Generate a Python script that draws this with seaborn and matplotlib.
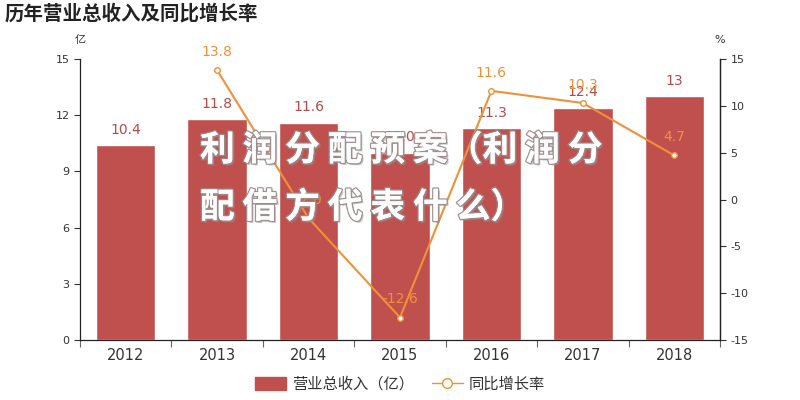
import numpy as np
import pandas as pd
import matplotlib
matplotlib.use("Agg")
import matplotlib.pyplot as plt
import matplotlib.patheffects as pe
from matplotlib.lines import Line2D
from matplotlib.patches import Patch
import seaborn as sns

years = ["2012", "2013", "2014", "2015", "2016", "2017", "2018"]
revenue = [10.4, 11.8, 11.6, 10.0, 11.3, 12.4, 13.0]
revenue_labels = ["10.4", "11.8", "11.6", "10.0", "11.3", "12.4", "13"]
growth_years = ["2013", "2014", "2015", "2016", "2017", "2018"]
growth = [13.8, -2.0, -12.6, 11.6, 10.3, 4.7]
growth_labels = ["13.8", "-2.0", "-12.6", "11.6", "10.3", "4.7"]
left_ticks = [0, 3, 6, 9, 12, 15]
right_ticks = [-15, -10, -5, 0, 5, 10, 15]

sns.set_theme(style="white")
plt.rcParams['font.family'] = ['DejaVu Sans', 'Noto Sans CJK SC']
plt.rcParams['axes.unicode_minus'] = False

BAR = "#c0504d"
LINE = "#f0913a"
TXT = "#333333"

fig = plt.figure(figsize=(8, 4), dpi=100)
ax = fig.add_axes([0.1, 0.15, 0.8, 0.7025])

df = pd.DataFrame({"year": years, "rev": revenue})
sns.barplot(data=df, x="year", y="rev", color=BAR, saturation=1, width=0.65, ax=ax)
for i, (v, lab) in enumerate(zip(revenue, revenue_labels)):
    ax.text(i, v + 0.45, lab, ha="center", va="bottom", color="#b84a47", fontsize=10)

ax.set_ylim(0, 15)
ax.set_xlim(-0.5, len(years) - 0.5)
ax.set_yticks(left_ticks)
ax.set_xlabel("")
ax.set_ylabel("")
ax.tick_params(axis="y", labelsize=8, colors=TXT, length=4, width=0.8, left=True, direction="out")
ax.tick_params(axis="x", labelsize=10.5, colors=TXT, length=0, pad=6)
ax.set_xticks(np.arange(-0.5, len(years), 1.0), minor=True)
ax.tick_params(axis="x", which="minor", bottom=True, length=5, width=0.8, color="#666666", direction="out")
ax.spines["top"].set_visible(False)
for s in ["left", "right", "bottom"]:
    ax.spines[s].set_color("#222222")
    ax.spines[s].set_linewidth(0.9)

ax2 = ax.twinx()
gx = [years.index(y) for y in growth_years]
gdf = pd.DataFrame({"x": gx, "g": growth})
sns.lineplot(data=gdf, x="x", y="g", color=LINE, linewidth=1.5, marker="o", markersize=4,
             markerfacecolor="white", markeredgecolor=LINE, markeredgewidth=1.0, ax=ax2)
for x, v, lab in zip(gx, growth, growth_labels):
    ax2.text(x, v + 1.2, lab, ha="center", va="bottom", color=LINE, fontsize=10)
ax2.set_ylim(-15, 15)
ax2.set_yticks(right_ticks)
ax2.set_xlim(-0.5, len(years) - 0.5)
ax2.set_ylabel("")
ax2.set_xlabel("")
ax2.tick_params(axis="y", labelsize=8, colors=TXT, length=4, width=0.8, right=True, direction="out")
for s in ["top", "left", "bottom"]:
    ax2.spines[s].set_visible(False)
ax2.spines["right"].set_color("#222222")
ax2.spines["right"].set_linewidth(0.9)

fig.text(0.006, 0.965, "历年营业总收入及同比增长率", fontsize=14, fontweight="bold",
         color="#222222", ha="left", va="center", family=['Noto Sans CJK SC', 'DejaVu Sans'])
fig.text(0.1, 0.9, "亿", fontsize=8, color=TXT, ha="center", va="center")
fig.text(0.9, 0.9, "%", fontsize=8, color=TXT, ha="center", va="center")

# watermark
shadow = [pe.SimplePatchShadow(offset=(1.5, -1.5), shadow_rgbFace="#9a8f8f", alpha=0.5),
          pe.withStroke(linewidth=2, foreground="#9a8a8a"), pe.Normal()]
fig.text(0.25, 0.625, "利 润 分 配 预 案（利 润 分", fontsize=25, color="white",
         fontweight="bold", ha="left", va="center", path_effects=shadow, alpha=0.92,
         family=['Noto Sans CJK SC', 'DejaVu Sans'])
fig.text(0.25, 0.482, "配 借 方 代 表 什 么）", fontsize=25, color="white",
         fontweight="bold", ha="left", va="center", path_effects=shadow, alpha=0.92,
         family=['Noto Sans CJK SC', 'DejaVu Sans'])

handles = [Patch(facecolor=BAR, edgecolor=BAR),
           Line2D([0], [0], color=LINE, linewidth=1, marker="o", markersize=7,
                  markerfacecolor="white", markeredgecolor=LINE)]
fig.legend(handles, ["营业总收入（亿）", "同比增长率"], loc="center", bbox_to_anchor=(0.5, 0.04),
           ncol=2, frameon=False, fontsize=11, handlelength=2.0, handleheight=0.9,
           columnspacing=1.2, handletextpad=0.4, labelcolor=TXT)

fig.savefig("out.png", dpi=100)
